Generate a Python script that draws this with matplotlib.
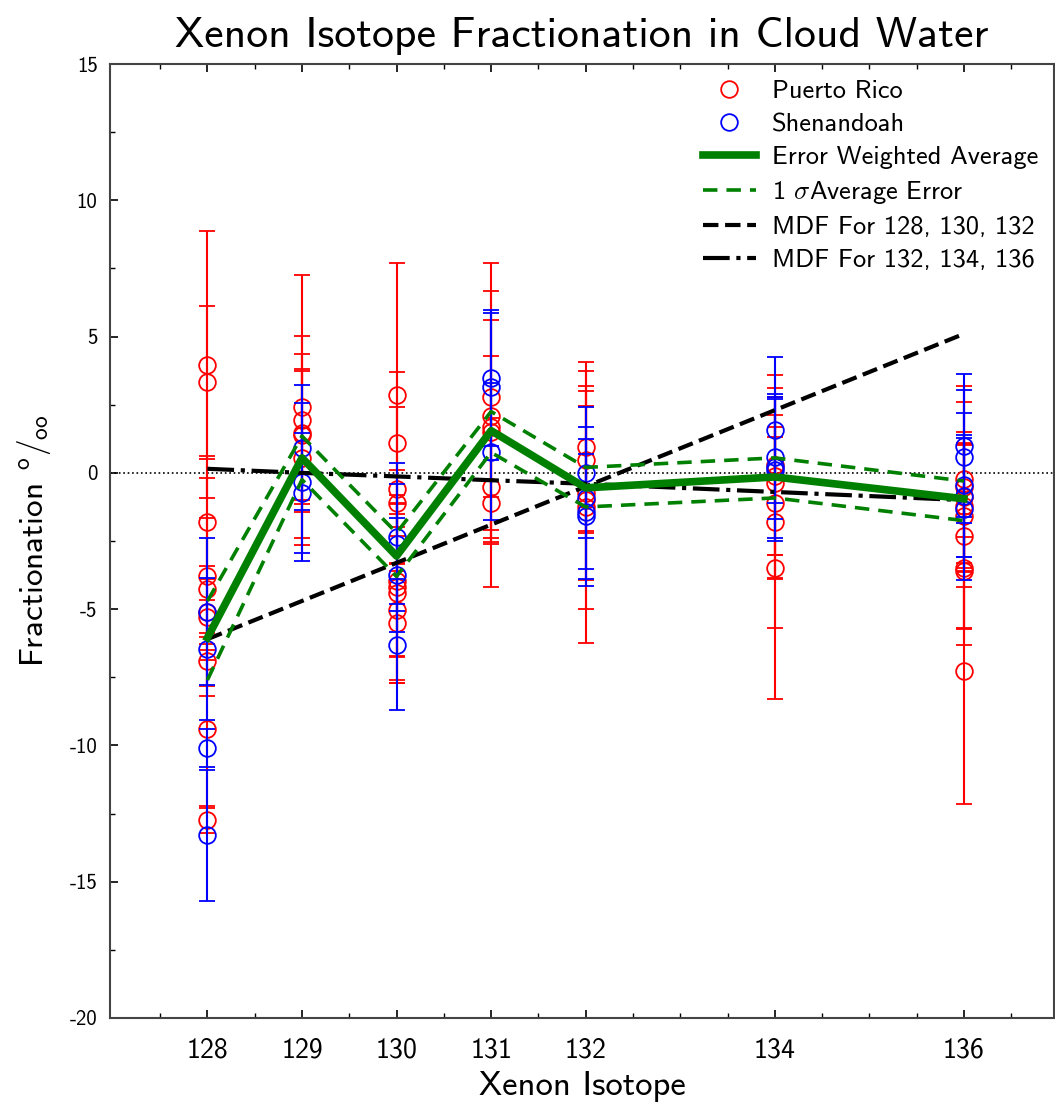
import numpy as np
import matplotlib
matplotlib.use("Agg")
import matplotlib.pyplot as plt

plt.rcParams["font.family"] = ["cmss10", "DejaVu Sans"]
plt.rcParams["mathtext.fontset"] = "cm"
plt.rcParams["axes.unicode_minus"] = False

# Puerto Rico samples: isotope -> (values, 1 sigma errors)
pr_128 = [3.96, 3.32, -1.80, -3.78, -4.26, -5.09, -5.27, -6.92, -9.39, -12.73]
pr_128_err = [4.9, 2.8, 1.6, 4.4, 2.6, 1.2, 0.6, 0.9, 2.9, 0.5]
pr_129 = [2.43, 1.94, 1.46, 1.40, 0.55]
pr_129_err = [4.83, 3.1, 2.9, 2.4, 3.2]
pr_130 = [2.86, 1.10, -0.59, -1.10, -3.95, -4.20, -4.40, -5.03, -5.50]
pr_130_err = [4.85, 2.6, 3.0, 1.2, 2.8, 3.4, 3.3, 1.7, 2.2]
pr_131 = [2.80, 2.07, 1.70, 1.50, -0.50, -1.10]
pr_131_err = [4.9, 4.6, 2.6, 4.1, 1.9, 3.1]
pr_132 = [0.95, 0.48, -0.73, -1.00, -1.25]
pr_132_err = [3.1, 2.7, 3.2, 4.0, 5.0]
pr_134 = [0.30, -0.10, -0.37, -1.10, -1.79, -3.50]
pr_134_err = [3.3, 2.9, 3.5, 2.8, 3.9, 4.8]
pr_136 = [-0.22, -0.50, -0.90, -1.20, -1.58, -2.33, -3.50, -3.60, -7.26]
pr_136_err = [3.4, 3.1, 2.4, 2.3, 2.6, 3.4, 2.8, 2.1, 4.9]

# Shenandoah samples
sh_128 = [-5.09, -6.46, -10.10, -13.30]
sh_128_err = [2.7, 2.6, 0.7, 2.4]
sh_129 = [0.92, -0.32, -0.74]
sh_129_err = [2.3, 2.9, 2.2]
sh_130 = [-2.35, -2.60, -3.74, -6.30]
sh_130_err = [2.7, 2.2, 2.1, 2.4]
sh_131 = [3.48, 3.16, 0.78]
sh_131_err = [2.5, 2.7, 2.5]
sh_132 = [0.00, -0.92, -1.45, -1.60]
sh_132_err = [2.4, 2.6, 2.7, 2.3]
sh_134 = [1.58, 0.60, 0.20, 0.10]
sh_134_err = [2.67, 2.3, 2.6, 2.6]
sh_136 = [1.00, 0.59, -0.43, -0.84, -1.32]
sh_136_err = [2.63, 2.44, 2.64, 2.23, 2.6]

isotopes = [128, 129, 130, 131, 132, 134, 136]
pr_vals = [pr_128, pr_129, pr_130, pr_131, pr_132, pr_134, pr_136]
pr_errs = [pr_128_err, pr_129_err, pr_130_err, pr_131_err, pr_132_err, pr_134_err, pr_136_err]
sh_vals = [sh_128, sh_129, sh_130, sh_131, sh_132, sh_134, sh_136]
sh_errs = [sh_128_err, sh_129_err, sh_130_err, sh_131_err, sh_132_err, sh_134_err, sh_136_err]

avg = [-6.05, 0.55, -3.05, 1.55, -0.55, -0.15, -0.95]
avg_hi = [-4.7, 1.35, -2.2, 2.25, 0.2, 0.55, -0.3]
avg_lo = [-7.6, -0.25, -3.8, 0.75, -1.25, -0.92, -1.75]

mdf1 = [-6.1, -4.7, -3.3, -1.9, -0.5, 2.3, 5.1]
mdf2 = [0.15, 0.0, -0.13, -0.27, -0.4, -0.7, -1.0]

fig = plt.figure(figsize=(10.55, 11.10), dpi=100)
ax = fig.add_axes([0.1043, 0.0829, 0.8945, 0.8594])

ax.axhline(0, color="black", linestyle=":", linewidth=1.2, zorder=1)

for x, v, e in zip(isotopes, pr_vals, pr_errs):
    ax.errorbar([x] * len(v), v, yerr=e, fmt="o", color="red", mfc="none",
                ms=12, mew=1.3, elinewidth=1.5, capsize=6, capthick=1.5, zorder=2)
for x, v, e in zip(isotopes, sh_vals, sh_errs):
    ax.errorbar([x] * len(v), v, yerr=e, fmt="o", color="blue", mfc="none",
                ms=12, mew=1.3, elinewidth=1.5, capsize=6, capthick=1.5, zorder=3)

ax.plot(isotopes, avg, color="green", linewidth=5.5, zorder=5)
ax.plot(isotopes, avg_hi, color="green", linestyle=(0, (4, 2.5)), linewidth=2.6, zorder=5)
ax.plot(isotopes, avg_lo, color="green", linestyle=(0, (4, 2.5)), linewidth=2.6, zorder=5)
ax.plot(isotopes, mdf1, color="black", linestyle="--", linewidth=3, zorder=4)
ax.plot(isotopes, mdf2, color="black", linestyle="-.", linewidth=3, zorder=4)

# legend handles
h_pr, = ax.plot([], [], "o", color="red", mfc="none", ms=12, mew=1.3)
h_sh, = ax.plot([], [], "o", color="blue", mfc="none", ms=12, mew=1.3)
h_avg, = ax.plot([], [], color="green", linewidth=5.5)
h_err, = ax.plot([], [], color="green", linestyle=(0, (4, 2.5)), linewidth=2.6)
h_m1, = ax.plot([], [], color="black", linestyle="--", linewidth=3)
h_m2, = ax.plot([], [], color="black", linestyle="-.", linewidth=3)
ax.legend([h_pr, h_sh, h_avg, h_err, h_m1, h_m2],
          ["Puerto Rico", "Shenandoah", "Error Weighted Average",
           r"1 $\sigma$Average Error", "MDF For 128, 130, 132", "MDF For 132, 134, 136"],
          loc="upper right", frameon=False, fontsize=19, handlelength=2.0,
          handletextpad=0.6, borderaxespad=0.2, labelspacing=0.36,
          bbox_to_anchor=(1.0, 1.0))

ax.set_xlim(126.97, 136.95)
ax.set_ylim(-20, 15)
ax.set_xticks(isotopes)
ax.set_xticks(np.arange(127.5, 137, 0.5), minor=True)
ax.set_yticks(np.arange(-20, 16, 5))
ax.set_yticks(np.arange(-20, 15, 2.5), minor=True)
ax.tick_params(axis="x", which="major", direction="in", length=6, width=1.2,
               labelsize=20, pad=14, top=True)
ax.tick_params(axis="x", which="minor", direction="in", length=3.5, width=1, top=True)
ax.tick_params(axis="y", which="major", direction="in", length=6, width=1.2,
               labelsize=15, pad=9, right=False)
ax.tick_params(axis="y", which="minor", direction="in", length=3.5, width=1)
for s in ["top", "bottom", "left", "right"]:
    ax.spines[s].set_linewidth(1.5)
    ax.spines[s].set_color("#444444")

ax.set_xlabel("Xenon Isotope", fontsize=25, labelpad=6)
ax.set_ylabel(r"Fractionation $^{\mathsf{o}}/_{\mathsf{oo}}$", fontsize=24, labelpad=12)
ax.set_title("Xenon Isotope Fractionation in Cloud Water", fontsize=31.5, pad=12)

plt.savefig("out.png", dpi=100)
